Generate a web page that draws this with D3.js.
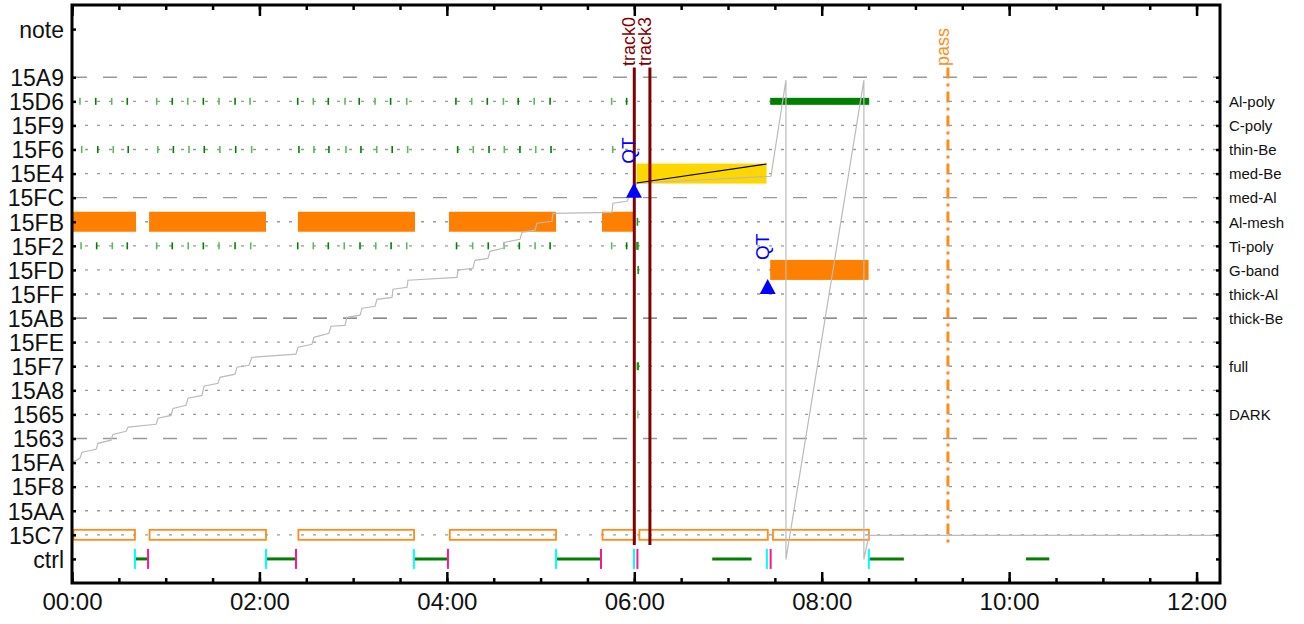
<!DOCTYPE html>
<html>
<head>
<meta charset="utf-8">
<script src="https://cdn.jsdelivr.net/npm/d3@7"></script>
<style>
   body { margin: 0; background: #fff; }
   text { font-family: "Liberation Sans", Arial, sans-serif; }
</style>
</head>
<body>
<div id="chart"></div>
<script>
const width = 1304;
const height = 624;

// row labels, top to bottom (index = row position)
const rows = ["15A9","15D6","15F9","15F6","15E4","15FC","15FB","15F2","15FD","15FF",
              "15AB","15FE","15F7","15A8","1565","1563","15FA","15F8","15AA","15C7","ctrl"];
const rowNotes = ["","Al-poly","C-poly","thin-Be","med-Be","med-Al","Al-mesh","Ti-poly","G-band","thick-Al",
                  "thick-Be","","full","","DARK","","","","","",""];
const dashedRows = ["15A9","15FC","15AB","1563"];

// all times in minutes from 00:00
const meshBlocks  = [[0,41],[48.7,124.2],[144,219.6],[240.7,309.9],[338.7,360.4]];            // 15FB
const frameBlocks = [[0,40.3],[48.7,124.2],[144,219],[240.9,309.9],[338.7,360.4],[362.3,445.5],[447.8,510.2]]; // 15C7
const yellowBlock = [361.5, 444.7];   // 15E4
const greenBlock  = [447, 510.4];     // 15D6
const gbandBlock  = [447, 510];       // 15FD

const ticksD6 = [5.1,15.2,25.4,35.4,54.2,64.2,74.1,84.1,94.1,104.4,114,144.5,154.5,164.1,174.8,183.9,194,204,214.3,
                 245.8,255.9,265.9,276.2,285.7,295.9,306.1,345.5,355.1];
const ticksF6 = [6.2,16.5,26.4,36,54.9,64.9,74.9,84.7,94.7,104.8,115,145.3,154.9,164.5,175.4,185,195.1,205,214.9,
                 246.9,256.9,267,276.8,286.8,296.9,306.7,346.2];
const ticksF2 = [5.8,15.8,25.8,35.4,54.2,64.2,74.4,84.1,94.1,104.4,114.4,144.5,154.5,164.1,174.3,184.4,194.5,204.3,214.3,
                 246.2,256.5,266.5,276.6,286.4,296.5,306.1,345.5,355.1];
const lateTicks = [["15FB",362],["15F2",362],["15FD",362.5],["15F7",362.3],["1565",362.3]];

const tracks = [["track0",360],["track3",370]];
const passTime = 560.8;
const qtMarks = [[359.8,"15FC"],[445.4,"15FF"]];

const ctrlStart = [40.3,124.2,218.9,309.9,359.8,444.9,510.2];
const ctrlStop  = [48.7,143.4,240.7,338.7,362,447.3];
const ctrlRuns  = [[40.3,48.7],[124.2,143.4],[218.9,240.7],[309.9,338.7],[409.9,435.1],[510.2,532.6],[610.8,625.7]];

// progress trace [minute, row position]
const progress = [[0,15.99],[5.1,15.82],[6.4,15.57],[15.4,15.45],[16.6,15.2],[25,15.07],[26.2,14.83],[34.6,14.7],
   [35.9,14.53],[53.8,14.41],[55.1,14.16],[63.4,14.04],[64.7,13.75],[73,13.62],[74.3,13.33],[83.2,13.21],
   [84.5,12.83],[93.5,12.71],[94.7,12.46],[104.4,12.33],[105.6,12.04],[113.3,11.96],[115.2,11.63],[143.4,11.5],
   [144.7,11.21],[153.6,11.09],[154.9,10.8],[164.5,10.63],[165.8,10.34],[174.8,10.3],[176,9.97],[184.4,9.88],
   [185.7,9.59],[194,9.51],[195.3,9.22],[204.9,9.14],[205.5,8.8],[214.5,8.72],[215.1,8.43],[246.5,8.31],
   [247.1,8.01],[256.7,7.93],[258,7.6],[266.3,7.52],[267.6,7.23],[275.9,7.1],[277.2,6.85],[286.8,6.73],
   [288.1,6.44],[296.4,6.35],[297.7,6.06],[307.3,5.98],[307.9,5.65],[345.7,5.61],[346.3,5.23],[355.3,5.15],
   [361.7,4.4],[447.5,4.11],[457.1,0.12],[457.1,20.02],[507,0.12],[507,20.02],[510.2,19.02],[735,19.02]];
const slopeLine = [[361.5,4.39],[444.7,3.6]];

const xTicksMajor = [0,120,240,360,480,600,720];
const xTicksMinor = d3.range(0, 736, 30);

const svg = d3.select("#chart").append("svg")
   .attr("width", width)
   .attr("height", height);

const x = d3.scaleLinear().domain([0, 735]).range([72, 1220]);
const y = d3.scaleLinear().domain([-3, 21]).range([5, 583]);
const rowY = name => y(rows.indexOf(name));

// grid
svg.selectAll("line.grid")
   .data(rows.filter(r => r != "ctrl"))
   .enter()
   .append("line")
   .attr("class", "grid")
   .attr("x1", x(0)+1)
   .attr("x2", x(735)-1)
   .attr("y1", d => rowY(d))
   .attr("y2", d => rowY(d))
   .style("stroke", d => d == "15AB" ? "#666" : "#999")
   .style("stroke-width", 1.3)
   .style("stroke-dasharray", d => dashedRows.includes(d) ? "14,16" : "3,9");

// bars
svg.selectAll("rect.mesh")
   .data(meshBlocks)
   .enter()
   .append("rect")
   .attr("x", d => x(d[0])+1)
   .attr("width", d => x(d[1])-x(d[0])-1)
   .attr("y", rowY("15FB")-10)
   .attr("height", 20)
   .style("fill", "#ff8000");

svg.selectAll("rect.frame")
   .data(frameBlocks)
   .enter()
   .append("rect")
   .attr("x", d => x(d[0])+1.5)
   .attr("width", d => x(d[1])-x(d[0])-1.5)
   .attr("y", rowY("15C7")-5)
   .attr("height", 10)
   .style("fill", "none")
   .style("stroke", "#ff8c1a")
   .style("stroke-width", 1.8);

svg.append("rect")
   .attr("x", x(yellowBlock[0]))
   .attr("width", x(yellowBlock[1])-x(yellowBlock[0]))
   .attr("y", rowY("15E4")-10)
   .attr("height", 20)
   .style("fill", "#ffd700");

svg.append("rect")
   .attr("x", x(greenBlock[0]))
   .attr("width", x(greenBlock[1])-x(greenBlock[0]))
   .attr("y", rowY("15D6")-3.5)
   .attr("height", 7)
   .style("fill", "#008000");

svg.append("rect")
   .attr("x", x(gbandBlock[0]))
   .attr("width", x(gbandBlock[1])-x(gbandBlock[0]))
   .attr("y", rowY("15FD")-10)
   .attr("height", 20)
   .style("fill", "#ff8000");

// small green ticks
[["15D6",ticksD6],["15F6",ticksF6],["15F2",ticksF2]].forEach(([row, ticks]) => {
   svg.selectAll("line.t" + row)
      .data(ticks)
      .enter()
      .append("line")
      .attr("class", "t" + row)
      .attr("x1", d => x(d))
      .attr("x2", d => x(d))
      .attr("y1", rowY(row)-3.5)
      .attr("y2", rowY(row)+3.5)
      .style("stroke", (d,i) => i % 2 ? "#008000" : "#5cb85c")
      .style("stroke-width", 1.6);
});

svg.selectAll("line.late")
   .data(lateTicks)
   .enter()
   .append("line")
   .attr("x1", d => x(d[1]))
   .attr("x2", d => x(d[1]))
   .attr("y1", d => rowY(d[0])-4)
   .attr("y2", d => rowY(d[0])+4)
   .style("stroke", d => d[0] == "1565" ? "#8fd08f" : "#1a9a1a")
   .style("stroke-width", d => (d[0] == "15F2" || d[0] == "15F7") ? 2.5 : 1.6);

// progress trace
svg.append("path")
   .datum(progress)
   .attr("d", d3.line().x(d => x(d[0])).y(d => y(d[1])))
   .style("fill", "none")
   .style("stroke", "#bbb")
   .style("stroke-width", 1.2);

svg.append("path")
   .datum(slopeLine)
   .attr("d", d3.line().x(d => x(d[0])).y(d => y(d[1])))
   .style("stroke", "#000")
   .style("stroke-width", 1.1);

// ctrl row
const ctrlY = rowY("ctrl");
svg.selectAll("line.run")
   .data(ctrlRuns)
   .enter()
   .append("line")
   .attr("x1", d => x(d[0]))
   .attr("x2", d => x(d[1]))
   .attr("y1", ctrlY)
   .attr("y2", ctrlY)
   .style("stroke", "#008000")
   .style("stroke-width", 3);

svg.selectAll("line.start")
   .data(ctrlStart)
   .enter()
   .append("line")
   .attr("x1", d => x(d))
   .attr("x2", d => x(d))
   .attr("y1", ctrlY-10)
   .attr("y2", ctrlY+10)
   .style("stroke", "#00ffff")
   .style("stroke-width", 2);

svg.selectAll("line.stop")
   .data(ctrlStop)
   .enter()
   .append("line")
   .attr("x1", d => x(d))
   .attr("x2", d => x(d))
   .attr("y1", ctrlY-10)
   .attr("y2", ctrlY+10)
   .style("stroke", "#ff1493")
   .style("stroke-width", 2);

// vertical markers
svg.selectAll("line.track")
   .data(tracks)
   .enter()
   .append("line")
   .attr("x1", d => x(d[1]))
   .attr("x2", d => x(d[1]))
   .attr("y1", y(-0.4))
   .attr("y2", y(19.42))
   .style("stroke", "#800000")
   .style("stroke-width", 3);

svg.selectAll("text.track")
   .data(tracks)
   .enter()
   .append("text")
   .attr("transform", d => `translate(${x(d[1])+1},${y(-0.47)}) rotate(-90)`)
   .style("font-size", "18px")
   .style("fill", "#800000")
   .text(d => d[0]);

svg.append("line")
   .attr("x1", x(passTime))
   .attr("x2", x(passTime))
   .attr("y1", y(-0.4))
   .attr("y2", y(19.42))
   .style("stroke", "#ff8c1a")
   .style("stroke-width", 3)
   .style("stroke-dasharray", "11,5,3,5");

svg.append("text")
   .attr("transform", `translate(${x(passTime)+1},${y(-0.47)}) rotate(-90)`)
   .style("font-size", "18px")
   .style("fill", "#ff8c1a")
   .text("pass");

// QT markers
qtMarks.forEach(([t, row]) => {
   const cx = x(t), cy = rowY(row);
   svg.append("path")
      .attr("d", `M${cx},${cy-15}L${cx+8},${cy}L${cx-8},${cy}Z`)
      .style("fill", "#0000ff");
   svg.append("text")
      .attr("transform", `translate(${cx+1.5},${cy-34}) rotate(-90)`)
      .style("font-size", "19px")
      .style("fill", "#0000ff")
      .text("QT");
});

// axes
const hhmm = d => String(Math.floor(d/60)).padStart(2, "0") + ":00";

svg.append("g")
   .attr("transform", `translate(0,${y(21)})`)
   .call(d3.axisBottom(x).tickValues(xTicksMinor).tickSize(-5).tickFormat(""));
svg.append("g")
   .attr("class", "xLabels")
   .attr("transform", `translate(0,${y(21)})`)
   .call(d3.axisBottom(x).tickValues(xTicksMajor).tickSize(-11).tickPadding(22).tickFormat(hhmm));
svg.append("g")
   .attr("transform", `translate(0,${y(-3)})`)
   .call(d3.axisTop(x).tickValues(xTicksMinor).tickSize(-5).tickFormat(""));
svg.append("g")
   .attr("transform", `translate(0,${y(-3)})`)
   .call(d3.axisTop(x).tickValues(xTicksMajor).tickSize(-11).tickFormat(""));

svg.append("g")
   .attr("class", "yLabels")
   .attr("transform", `translate(${x(0)},0)`)
   .call(d3.axisLeft(y).tickValues([-2].concat(d3.range(0, 21))).tickSize(-4).tickPadding(8)
      .tickFormat(d => d == -2 ? "note" : rows[d]));

svg.append("g")
   .attr("class", "rLabels")
   .attr("transform", `translate(${x(735)},0)`)
   .call(d3.axisRight(y).tickValues(d3.range(0, 21)).tickSize(-4).tickPadding(9)
      .tickFormat(d => rowNotes[d]));

svg.selectAll(".domain").remove();
svg.selectAll(".tick line").style("stroke", "#000").style("stroke-width", 2.5);
svg.selectAll(".xLabels text").style("font-size", "24px").style("fill", "#111").attr("dy", "0.2em");
svg.selectAll(".yLabels text").style("font-size", "23px").style("fill", "#111").attr("dy", "0.36em");
svg.selectAll(".rLabels text").style("font-size", "15px").style("fill", "#111").attr("dy", "0.35em");
svg.selectAll("g.tick text").style("font-family", '"Liberation Sans", Arial, sans-serif');

svg.append("rect")
   .attr("x", x(0))
   .attr("y", y(-3))
   .attr("width", x(735)-x(0))
   .attr("height", y(21)-y(-3))
   .style("fill", "none")
   .style("stroke", "#000")
   .style("stroke-width", 3);
</script>
</body>
</html>
